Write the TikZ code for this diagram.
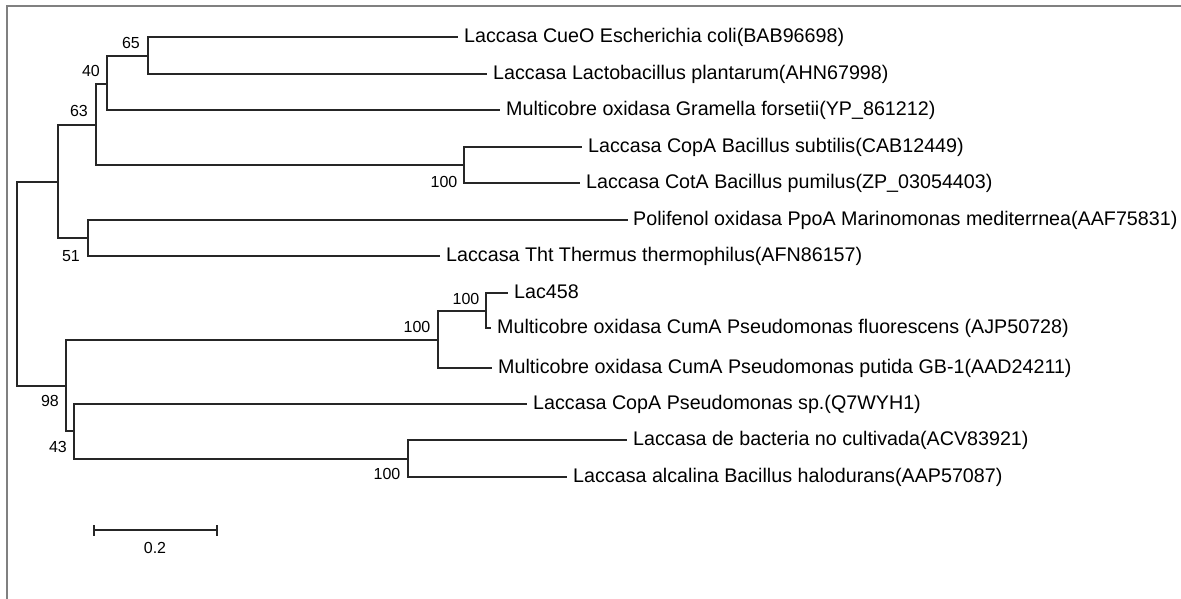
\documentclass[tikz,border=0pt]{standalone}
\usepackage{fontspec}
\setmainfont{Liberation Sans}
\begin{document}
\begin{tikzpicture}[x=1pt,y=-1pt,
  branch/.style={line width=1.4pt, black!85, line join=miter},
  leaf/.style={anchor=west, inner xsep=6pt, inner ysep=0pt, font=\fontsize{19.7}{23}\selectfont, text height=14.5pt, text depth=3pt},
  boot/.style={font=\fontsize{16}{18}\selectfont, inner sep=0pt},
  frameline/.style={draw=gray, line width=2pt}]
\useasboundingbox[fill=white] (0,0) rectangle (1181,599);
\draw[frameline] (7,599) -- (7,6) -- (1181,6);

% internal nodes
\coordinate (root) at (17,284);
\coordinate (nA) at (58,182);
\coordinate (n63) at (96,125);
\coordinate (n40) at (107,84);
\coordinate (n65) at (148,56);
\coordinate (nBac) at (464,165);
\coordinate (n51) at (88,238);
\coordinate (n98) at (66,386);
\coordinate (nPs) at (438,340);
\coordinate (nPsIn) at (486,311);
\coordinate (n43) at (74,431);
\coordinate (nHal) at (408,459);

% leaves
\node[leaf] (ecoli) at (458,37) {Laccasa CueO Escherichia coli(BAB96698)};
\node[leaf] (lacto) at (487,74) {Laccasa Lactobacillus plantarum(AHN67998)};
\node[leaf] (gram) at (500,110) {Multicobre oxidasa Gramella forsetii(YP\_861212)};
\node[leaf] (copaB) at (582,147) {Laccasa CopA Bacillus subtilis(CAB12449)};
\node[leaf] (cota) at (580,183) {Laccasa CotA Bacillus pumilus(ZP\_03054403)};
\node[leaf, inner xsep=5pt] (polif) at (628,220) {Polifenol oxidasa PpoA Marinomonas mediterrnea(AAF75831)};
\node[leaf] (therm) at (440,256) {Laccasa Tht Thermus thermophilus(AFN86157)};
\node[leaf] (lac458) at (508,293) {Lac458};
\node[leaf] (fluor) at (491,328) {Multicobre oxidasa CumA Pseudomonas fluorescens (AJP50728)};
\node[leaf] (putida) at (492,368) {Multicobre oxidasa CumA Pseudomonas putida GB-1(AAD24211)};
\node[leaf] (copaP) at (527,404) {Laccasa CopA Pseudomonas sp.(Q7WYH1)};
\node[leaf] (uncult) at (627,440) {Laccasa de bacteria no cultivada(ACV83921)};
\node[leaf] (halo) at (567,477) {Laccasa alcalina Bacillus halodurans(AAP57087)};

% branches
\draw[branch] (root) |- (nA);
\draw[branch] (root) |- (n98);
\draw[branch] (nA) |- (n63);
\draw[branch] (nA) |- (n51);
\draw[branch] (n63) |- (n40);
\draw[branch] (n63) |- (nBac);
\draw[branch] (n40) |- (n65);
\draw[branch] (n40) |- (gram.west);
\draw[branch] (n65) |- (ecoli.west);
\draw[branch] (n65) |- (lacto.west);
\draw[branch] (nBac) |- (copaB.west);
\draw[branch] (nBac) |- (cota.west);
\draw[branch] (n51) |- (polif.west);
\draw[branch] (n51) |- (therm.west);
\draw[branch] (n98) |- (nPs);
\draw[branch] (n98) |- (n43);
\draw[branch] (nPs) |- (nPsIn);
\draw[branch] (nPs) |- (putida.west);
\draw[branch] (nPsIn) |- (lac458.west);
\draw[branch] (nPsIn) |- (fluor.west);
\draw[branch] (n43) |- (copaP.west);
\draw[branch] (n43) |- (nHal);
\draw[branch] (nHal) |- (uncult.west);
\draw[branch] (nHal) |- (halo.west);

% bootstrap values
\node[boot] (b65) at (131,43) {65};
\node[boot] (b40) at (91,71) {40};
\node[boot] (b63) at (79,111) {63};
\node[boot] (bBac) at (444,182) {100};
\node[boot] (b51) at (71,256) {51};
\node[boot] (bPsIn) at (466,299) {100};
\node[boot] (bPs) at (417,327) {100};
\node[boot] (b98) at (50,401) {98};
\node[boot] (b43) at (58,447) {43};
\node[boot] (bHal) at (387,474) {100};

% scale bar
\coordinate (sbL) at (94,530);
\coordinate (sbR) at (217,530);
\draw[branch] (sbL) -- (sbR);
\draw[branch] ([yshift=-5.5pt]sbL) -- ([yshift=5.5pt]sbL);
\draw[branch] ([yshift=-5.5pt]sbR) -- ([yshift=5.5pt]sbR);
\node[boot] (sblabel) at (155,548) {0.2};
\end{tikzpicture}
\end{document}
